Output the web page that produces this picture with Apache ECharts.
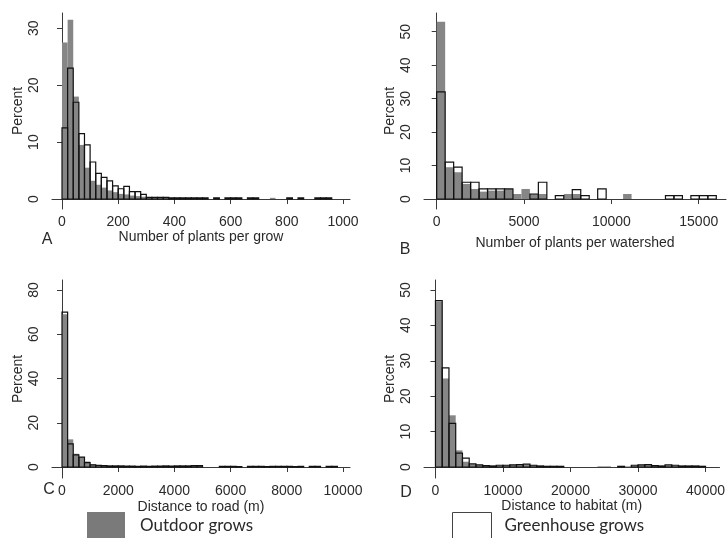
<!DOCTYPE html>
<html>
<head>
<meta charset="utf-8">
<script src="https://cdn.jsdelivr.net/npm/echarts@6/dist/echarts.min.js"></script>
<style>
html,body{margin:0;padding:0;background:#fff;}
#chart{width:728px;height:538px;}
</style>
</head>
<body>
<div id="chart"></div>
<script>
// ---- Panel A: Number of plants per grow (bin width 20) ----
const binWidthA = 20;
const greenA = [12.5, 23, 17, 11.5, 9.5, 6.5, 4.5, 3.8, 3.2, 2.3, 1.8, 2.2, 1.3, 1.3, 0.8, 0.3, 0.3, 0.3, 0.3, 0.2,
  0.2, 0.2, 0.2, 0.2, 0.2, 0.2, 0, 0.2, 0, 0.2, 0.2, 0.2, 0, 0.2, 0.2, 0, 0, 0, 0, 0,
  0.2, 0, 0.2, 0, 0, 0.2, 0.2, 0.2];
const outA = [27.5, 31.5, 18, 9.5, 5.5, 3.2, 2.5, 2, 1.5, 1.2, 0.9, 0.8, 0.6, 0.5, 0.4, 0.3, 0.3, 0.2, 0.2, 0.2,
  0.2, 0.1, 0.1, 0.1, 0.1, 0.1, 0, 0.1, 0, 0.1, 0.1, 0, 0, 0.1, 0, 0, 0, 0.2, 0, 0,
  0.1, 0, 0, 0, 0, 0.1, 0, 0];
const xTicksA = [0, 200, 400, 600, 800, 1000];
const yTicksA = [0, 10, 20, 30];

// ---- Panel B: Number of plants per watershed (bin width 485) ----
const binWidthB = 485;
const greenB = [32, 11, 9.5, 5, 5, 3, 3, 3, 3, 0, 0, 1.5, 5, 0, 1, 0, 2.8, 1, 0, 3,
  0, 0, 0, 0, 0, 0, 0, 1, 1, 0, 1, 1, 1];
const outB = [53, 9.5, 8, 4.5, 3, 2.2, 2.5, 2.5, 3, 1.5, 3, 1.5, 1.5, 0, 0, 1.5, 1.5, 0, 0, 0,
  0, 0, 1.5, 0, 0, 0, 0, 0, 0, 0, 0, 0, 0];
const xTicksB = [0, 5000, 10000, 15000];
const yTicksB = [0, 10, 20, 30, 40, 50];

// ---- Panel C: Distance to road (m) (bin width 200) ----
const binWidthC = 200;
const greenC = [70, 10.5, 5.5, 4.5, 2, 1, 0.7, 0.6, 0.5, 0.5, 0.5, 0.4, 0.4, 0.3, 0.4, 0.3, 0.4, 0.4, 0.5, 0.4,
  0.5, 0.5, 0.5, 0.6, 0.6, 0, 0, 0, 0.3, 0.3, 0.3, 0.2, 0, 0.3, 0.3, 0.3, 0.2, 0.3, 0.3, 0.3,
  0.3, 0.2, 0.3, 0, 0.3, 0.3, 0, 0.3, 0.3, 0];
const outC = [69, 12.5, 6, 4.5, 2.5, 1.2, 0.8, 0.6, 0.5, 0.5, 0.4, 0.5, 0.4, 0.4, 0.3, 0.4, 0.4, 0.5, 0.4, 0.5,
  0.5, 0.4, 0.5, 0.5, 0.6, 0, 0, 0, 0.3, 0.2, 0.3, 0.3, 0, 0.2, 0.3, 0.3, 0.3, 0.2, 0.3, 0.3,
  0.3, 0.3, 0.2, 0, 0.3, 0.2, 0, 0.3, 0.2, 0];
const xTicksC = [0, 2000, 4000, 6000, 8000, 10000];
const yTicksC = [0, 20, 40, 60, 80];

// ---- Panel D: Distance to habitat (m) (bin width 1000) ----
const binWidthD = 1000;
const greenD = [47, 28, 12.3, 3.9, 2.5, 0.9, 0.6, 0.4, 0.3, 0.5, 0.5, 0.6, 0.7, 0.8, 0.5, 0.3, 0.2, 0.2, 0.2, 0,
  0, 0, 0, 0, 0, 0, 0, 0.2, 0, 0.5, 0.6, 0.7, 0.4, 0.3, 0.6, 0.5, 0.3, 0.3, 0.3, 0.2, 0];
const outD = [46.7, 25, 14.6, 4.7, 1.5, 0.8, 0.6, 0.4, 0.3, 0.4, 0.5, 0.6, 0.7, 0.7, 0.5, 0.3, 0.2, 0.3, 0.2, 0,
  0, 0, 0, 0, 0.2, 0.2, 0, 0.2, 0.2, 0.4, 0.6, 0.6, 0.4, 0.3, 0.5, 0.4, 0.3, 0.3, 0.3, 0.3, 0];
const xTicksD = [0, 10000, 20000, 30000, 40000];
const yTicksD = [0, 10, 20, 30, 40, 50];

const xTitles = ['Number of plants per grow', 'Number of plants per watershed', 'Distance to road (m)', 'Distance to habitat (m)'];
const yTitle = 'Percent';
const panelLetters = ['A', 'B', 'C', 'D'];
const legendNames = ['Outdoor grows', 'Greenhouse grows'];

// ---- build ----
const FONT = 'Liberation Sans, Arial, sans-serif';
const TXT = '#2a2a2a';
const AXC = '#3a3a3a';
const GRAY = '#868686';

function bins(vals, w) {
  return vals.map((v, i) => [i * w, (i + 1) * w, v]);
}
function makeRender(kind) {
  return function (params, api) {
    const x0 = api.value(0), x1 = api.value(1), y = api.value(2);
    if (!y) return null;
    const p0 = api.coord([x0, 0]);
    const p1 = api.coord([x1, y]);
    const shape = { x: p0[0], y: p1[1], width: p1[0] - p0[0], height: p0[1] - p1[1] };
    if (kind === 'out') {
      return { type: 'rect', shape, style: { fill: GRAY } };
    }
    return { type: 'rect', shape, style: { fill: 'none', stroke: '#111', lineWidth: 1.2 } };
  };
}

const panels = [
  { grid: { left: 52, top: 13, width: 298, height: 196 }, x: [-35.6, 1025], y: [-1.76, 32.69], xt: xTicksA, yt: yTicksA, g: greenA, o: outA, w: binWidthA, nameGap: 16 },
  { grid: { left: 424, top: 13, width: 302, height: 196 }, x: [-727, 16560], y: [-2.99, 55.6], xt: xTicksB, yt: yTicksB, g: greenB, o: outB, w: binWidthB, nameGap: 27 },
  { grid: { left: 52, top: 280, width: 298, height: 198 }, x: [-356, 10249], y: [-4.96, 84.5], xt: xTicksC, yt: yTicksC, g: greenC, o: outC, w: binWidthC, nameGap: 22 },
  { grid: { left: 424, top: 280, width: 302, height: 198 }, x: [-1696, 42072], y: [-3.1, 52.8], xt: xTicksD, yt: yTicksD, g: greenD, o: outD, w: binWidthD, nameGap: 20 }
];

const grid = [], xAxis = [], yAxis = [], series = [];
panels.forEach((p, i) => {
  grid.push(p.grid);
  xAxis.push({
    type: 'value', gridIndex: i, min: p.x[0], max: p.x[1],
    name: xTitles[i], nameLocation: 'middle', nameGap: p.nameGap,
    nameTextStyle: { fontFamily: FONT, fontSize: 14, color: TXT },
    axisLine: { show: true, lineStyle: { color: AXC, width: 1 } },
    axisTick: { show: true, length: 5, lineStyle: { color: AXC }, customValues: p.xt },
    axisLabel: { customValues: p.xt, fontFamily: FONT, fontSize: 14, color: TXT, margin: 6, formatter: v => String(v) },
    splitLine: { show: false }
  });
  yAxis.push({
    type: 'value', gridIndex: i, min: p.y[0], max: p.y[1],
    name: yTitle, nameLocation: 'middle', nameGap: 27, nameRotate: 90,
    nameTextStyle: { fontFamily: FONT, fontSize: 14, color: TXT },
    axisLine: { show: true, lineStyle: { color: AXC, width: 1 } },
    axisTick: { show: true, length: 5, lineStyle: { color: AXC }, customValues: p.yt },
    axisLabel: { customValues: p.yt, rotate: 90, fontFamily: FONT, fontSize: 14, color: TXT, margin: 11, formatter: v => String(v) },
    splitLine: { show: false }
  });
  series.push({
    name: legendNames[0], type: 'custom', xAxisIndex: i, yAxisIndex: i,
    data: bins(p.o, p.w), encode: { x: [0, 1], y: 2 },
    renderItem: makeRender('out'), itemStyle: { color: GRAY }, clip: true
  });
  series.push({
    name: legendNames[1], type: 'custom', xAxisIndex: i, yAxisIndex: i,
    data: bins(p.g, p.w), encode: { x: [0, 1], y: 2 },
    renderItem: makeRender('green'), itemStyle: { color: '#fff', borderColor: '#111' }, clip: true
  });
});

const letterPos = [[47, 240], [405, 250], [49, 490], [406, 493]];
const graphic = panelLetters.map((t, i) => ({
  type: 'text', x: letterPos[i][0], y: letterPos[i][1],
  style: { text: t, fontFamily: FONT, fontSize: 16, fill: TXT, align: 'center', verticalAlign: 'middle' }
}));

const option = {
  animation: false,
  backgroundColor: '#fff',
  grid, xAxis, yAxis, series, graphic,
  legend: [
    {
      left: 82, top: 507, itemWidth: 38, itemHeight: 27, selectedMode: false,
      data: [{ name: legendNames[0], icon: 'rect', itemStyle: { color: '#7a7a7a', borderWidth: 0 } }],
      textStyle: { fontFamily: 'Lato, sans-serif', fontSize: 17, color: TXT, padding: [0, 0, 0, 10] }
    },
    {
      left: 447, top: 507, itemWidth: 39, itemHeight: 27, selectedMode: false,
      data: [{ name: legendNames[1], icon: 'rect', itemStyle: { color: '#fff', borderColor: '#444', borderWidth: 1 } }],
      textStyle: { fontFamily: 'Lato, sans-serif', fontSize: 17, color: TXT, padding: [0, 0, 0, 8] }
    }
  ]
};

const chart = echarts.init(document.getElementById('chart'), null, { renderer: 'canvas' });
chart.setOption(option);
</script>
</body>
</html>
